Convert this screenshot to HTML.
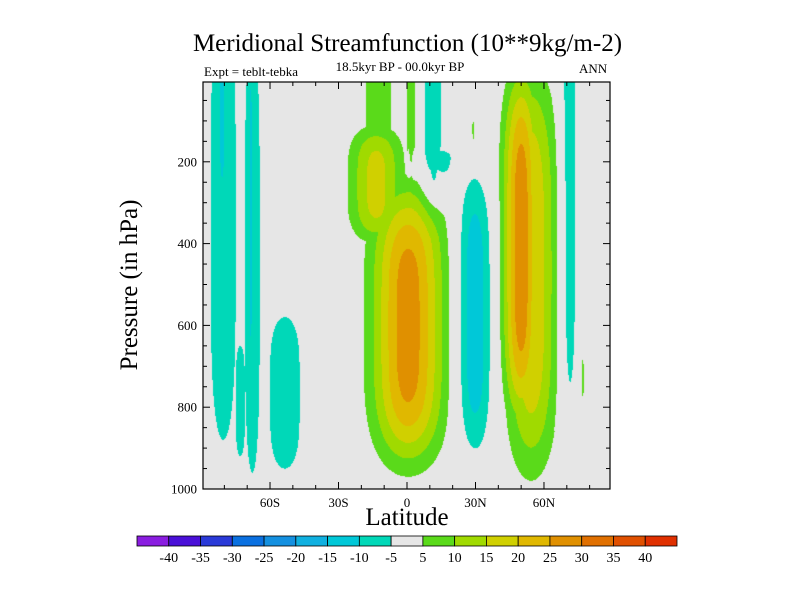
<!DOCTYPE html>
<html><head><meta charset="utf-8"><style>
body{margin:0;background:#fff;width:800px;height:600px;overflow:hidden;position:relative;font-family:"Liberation Serif",serif}
.t{position:absolute;white-space:nowrap;color:#000}
</style></head><body>
<div class="t" style="left:0;width:815px;text-align:center;top:30px;font-size:25px">Meridional Streamfunction (10**9kg/m-2)</div>
<div class="t" style="left:0;width:800px;text-align:center;top:59px;font-size:13px">18.5kyr BP - 00.0kyr BP</div>
<div class="t" style="left:204px;top:64px;font-size:13px">Expt = teblt-tebka</div>
<div class="t" style="left:579px;top:61px;font-size:13px">ANN</div>
<div class="t" style="left:130px;top:285px;font-size:25px;transform:translate(-50%,-50%) rotate(-90deg)">Pressure (in hPa)</div>
<div class="t" style="left:407px;top:518px;font-size:25px;transform:translate(-50%,-50%)">Latitude</div>
<canvas id="cv" width="407" height="407" style="position:absolute;left:203px;top:82px"></canvas>
<svg id="sv" width="800" height="600" style="position:absolute;left:0;top:0"></svg>
<script>
// features: extent where |value|=5, amplitude = peak value
const featLatMin=[-86,-83,-75,-71,-69.7,-60,7,8,10,22,68,69, -19,-26,-18,0,41.7,40,76.5,28.5];
const featLatMax=[-75,-79,-71,-64.5,-67.1,-47,15,20,13.5,37,74,72, 20,-1,-7,4.5,67,60,77.5,29.5];
const featPTop=[-180,-230,650,-100,-200,580,-100,170,140,240,-200,-100, 230,110,-100,-100,-40,-60,660,100];
const featPBot=[880,330,920,960,850,950,280,240,260,905,808,330, 970,400,300,300,980,880,790,155];
const featAmp=[-9,-12,-7,-9,-11,-8,-9,-7,-11,-14,-9,-11, 28,17,8,7,20,29,6,6];
const levels=[-40,-35,-30,-25,-20,-15,-10,-5,5,10,15,20,25,30,35,40];
const levelColors=["#8a1de0","#4a10d8","#2a3ad8","#0a70e0","#1490e0","#10b0e0","#00c8d8","#00d8b8","#e6e6e6","#5ada1a","#a0da00","#d0d000","#e0b800","#e09000","#e07000","#e05000","#e03000"];
const latTicks=[-60,-30,0,30,60];
const latTickLabels=["60S","30S","0","30N","60N"];
const pTicks=[200,400,600,800,1000];

const X=lat=>407+lat*2.283;
const Y=p=>489-(1000-p)*0.409;
const NS="http://www.w3.org/2000/svg";
const sv=document.getElementById('sv');
function mk(t,a){const e=document.createElementNS(NS,t);for(const k in a)e.setAttribute(k,a[k]);sv.appendChild(e);return e;}

function field(lat,p){
  let pos=0,neg=0;
  for(let i=0;i<featAmp.length;i++){
    const lc=(featLatMin[i]+featLatMax[i])/2,lw=(featLatMax[i]-featLatMin[i])/2;
    const pc=(featPTop[i]+featPBot[i])/2,pw=(featPBot[i]-featPTop[i])/2;
    const dx=(lat-lc)/lw,dy=(p-pc)/pw;
    const r2=dx*dx+dy*dy*dy*dy;
    if(r2>6)continue;
    const a=Math.abs(featAmp[i]);
    const v=a*Math.pow(5/a,r2);
    if(featAmp[i]>0)pos=Math.max(pos,v);else neg=Math.max(neg,v);
  }
  return pos-neg;
}
function colorOf(v){let k=0;while(k<levels.length&&v>=levels[k])k++;return levelColors[k];}
const cv=document.getElementById('cv'),ctx=cv.getContext('2d');
for(let py=0;py<407;py++){
  const p=1000-(489-(82+py+0.5))/0.409;
  let runStart=0,runCol=null;
  for(let px=0;px<=407;px++){
    let c=null;
    if(px<407){const lat=(203+px+0.5-407)/2.283;c=colorOf(field(lat,p));}
    if(c!==runCol){if(runCol){ctx.fillStyle=runCol;ctx.fillRect(runStart,py,px-runStart,1);}runCol=c;runStart=px;}
  }
}
const frame=mk('rect',{x:203,y:82,width:407,height:407,fill:'none',stroke:'#000','stroke-width':1.2});


for(let lat=-80;lat<=80;lat+=10){
  const major=lat%30===0,len=major?7:4,x=X(lat);
  const t1=mk('line',{x1:x,x2:x,y1:489,y2:489-len,stroke:'#000'});
  
  
  const t2=mk('line',{x1:x,x2:x,y1:82,y2:82+len,stroke:'#000'});
  
  
}
latTicks.forEach((lat,i)=>{
  const t=mk('text',{x:X(lat),y:507,'text-anchor':'middle','font-size':13,'font-family':'Liberation Serif, serif'});
  t.textContent=latTickLabels[i];
  
  
});
for(let p=50;p<=1000;p+=50){
  const major=p%200===0,len=major?7:4,y=Y(p);
  const t1=mk('line',{x1:203,x2:203+len,y1:y,y2:y,stroke:'#000'});
  
  
  const t2=mk('line',{x1:610,x2:610-len,y1:y,y2:y,stroke:'#000'});
  
  
}
pTicks.forEach(p=>{
  const t=mk('text',{x:197,y:Y(p)+4.5,'text-anchor':'end','font-size':13,'font-family':'Liberation Serif, serif'});
  t.textContent=String(p);
  
  
});
const cbX=137,cbW=540,n=levelColors.length,bw=cbW/n;
levelColors.forEach((c,i)=>{
  const r=mk('rect',{x:cbX+i*bw,y:536,width:bw,height:10,fill:c,stroke:'#000','stroke-width':0.8});
  
  
});
levels.forEach((l,i)=>{
  const t=mk('text',{x:cbX+(i+1)*bw,y:562,'text-anchor':'middle','font-size':14,'font-family':'Liberation Serif, serif'});
  t.textContent=String(l);
  
  
});
</script>
</body></html>
